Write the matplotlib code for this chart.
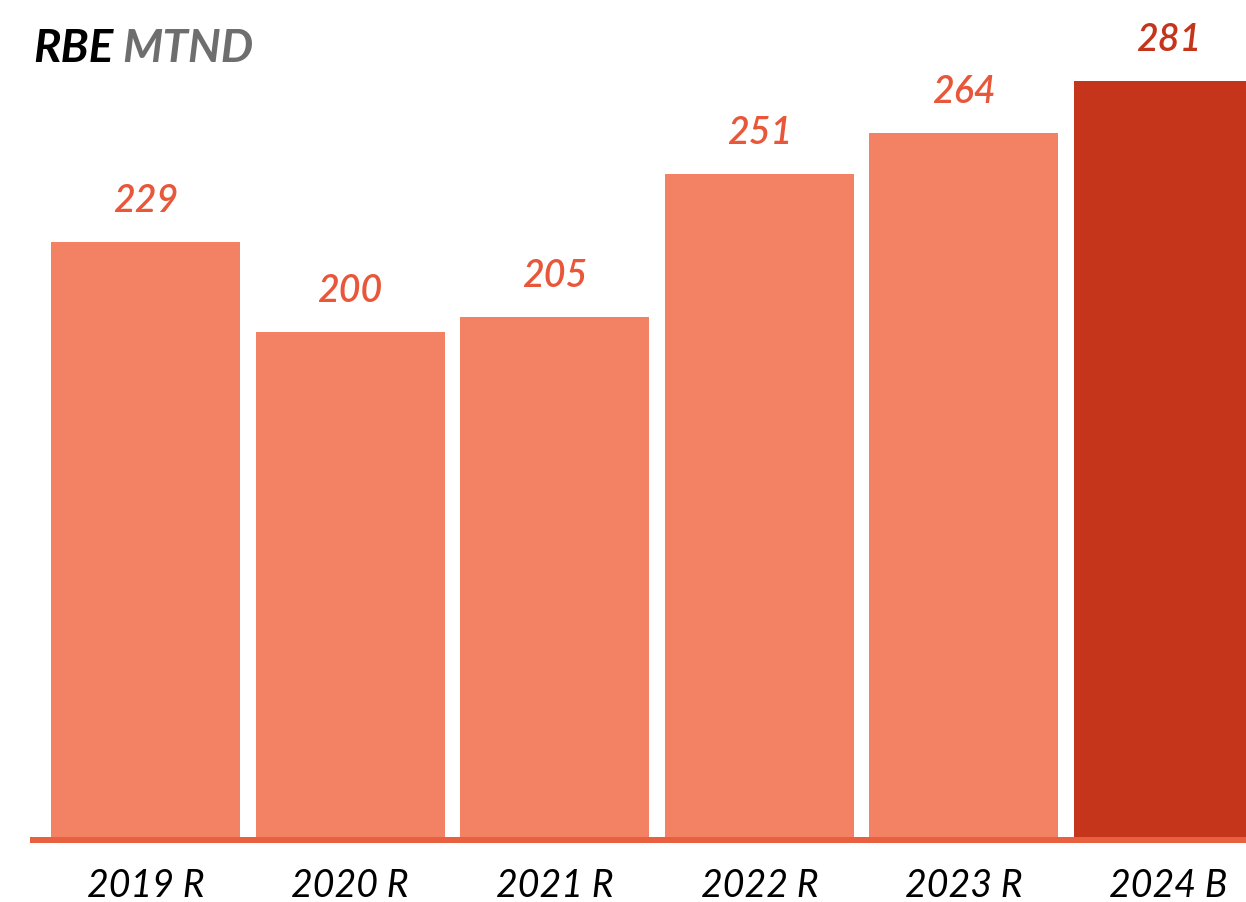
import matplotlib
matplotlib.use("Agg")
import matplotlib.pyplot as plt

# data
years = ["2019 R", "2020 R", "2021 R", "2022 R", "2023 R", "2024 B"]
values = [229, 200, 205, 251, 264, 281]

light = "#F28263"
dark = "#C5351B"
label_light = "#E8573A"
line_col = "#E8603F"

plt.rcParams['font.family'] = ['Lato', 'DejaVu Sans']

fig = plt.figure(figsize=(12.46, 9.02), dpi=100)
W, H = 1246, 902
# axes spans pixel x 30..1246, y 0..843
ax = fig.add_axes([30 / W, (H - 843) / H, (1246 - 30) / W, 843 / H])

pos = list(range(len(values)))
colors = [light] * (len(values) - 1) + [dark]
ax.bar(pos, values, width=0.924, color=colors, zorder=2)

ax.set_xlim(-0.565, 5.379)
ax.set_ylim(35.35, 307)
ax.axhline(36.3, color=line_col, lw=4.3, zorder=3)

for i, v in enumerate(values):
    c = dark if i == len(values) - 1 else label_light
    ax.annotate(str(v), xy=(i, v), xytext=(0, 30), textcoords='offset pixels',
                ha='center', va='baseline', fontsize=27, style='italic',
                fontweight='semibold', color=c)
    ax.annotate(years[i], xy=(i, 0), xycoords=('data', 'axes fraction'),
                xytext=(0, -54), textcoords='offset pixels',
                ha='center', va='baseline', fontsize=27, style='italic',
                color='black')

ax.axis('off')

# title in two colours
t1 = fig.text(33 / W, 1 - 62 / H, "RBE", fontsize=33, fontweight='bold',
              style='italic', color='black', va='baseline')
fig.canvas.draw()
bb = t1.get_window_extent()
fig.text((bb.x1 + 9) / W, 1 - 62 / H, "MTND", fontsize=33, fontweight='bold',
         style='italic', color='#6E6E6E', va='baseline')

fig.savefig("out.png", dpi=100)
